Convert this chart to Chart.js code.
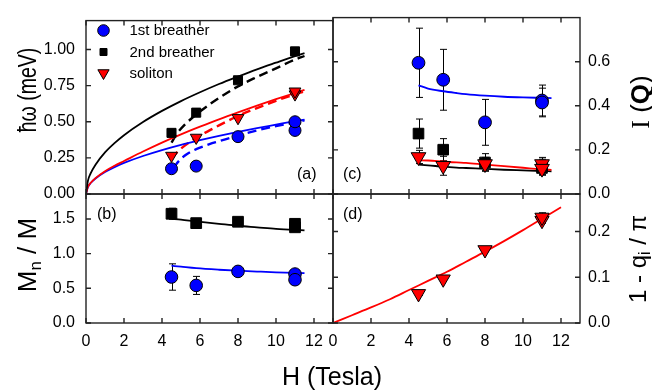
<!DOCTYPE html>
<html><head><meta charset="utf-8">
<script src="https://cdn.jsdelivr.net/npm/chart.js@4.4.1/dist/chart.umd.min.js"></script>
<style>
html,body{margin:0;padding:0;background:#fff;}
#wrap{position:relative;width:652px;height:392px;overflow:hidden;font-family:"Liberation Sans",Arial,Helvetica,sans-serif;color:#000;background:#fff;}
canvas{position:absolute;left:0;top:0;}
.t{position:absolute;white-space:nowrap;line-height:1;}
.t sub{font-size:0.65em;vertical-align:-0.28em;line-height:0;}
.lab{position:absolute;white-space:nowrap;line-height:1;font-size:16px;}
</style></head><body>
<div id="wrap">
<canvas id="ca" width="652" height="392"></canvas>
<canvas id="cb" width="652" height="392"></canvas>
<canvas id="cc" width="652" height="392"></canvas>
<canvas id="cd" width="652" height="392"></canvas>
<div class="t" style="left:332px;top:376px;font-size:25px;transform:translate(-50%,-50%)">H (Tesla)</div>
<div class="t" style="left:27px;top:90px;font-size:25px;transform:translate(-50%,-50%) rotate(-90deg) scaleX(0.78)">ħω (meV)</div>
<div class="t" style="left:27px;top:255px;font-size:26px;transform:translate(-50%,-50%) rotate(-90deg)">M<sub>n</sub> / M</div>
<div class="t" style="left:640px;top:102px;font-size:26px;transform:translate(-50%,-50%) rotate(-90deg)"><span style="font-family:'Liberation Serif',serif">I</span> (<b>Q</b>)</div>
<div class="t" style="left:638px;top:259px;font-size:24px;transform:translate(-50%,-50%) rotate(-90deg)">1 - q<sub>i</sub> / π</div>
<div class="lab" style="left:297px;top:166px">(a)</div>
<div class="lab" style="left:97px;top:206px">(b)</div>
<div class="lab" style="left:343px;top:166px">(c)</div>
<div class="lab" style="left:343px;top:206px">(d)</div>
</div>
<script>
// ---------- data ----------
const hTicks = [0, 2, 4, 6, 8, 10, 12];
const eTicks = [0, 0.25, 0.5, 0.75, 1.0];
const mTicks = [0, 0.5, 1.0, 1.5];
const iTicks = [0, 0.2, 0.4, 0.6];
const qTicks = [0, 0.1, 0.2];

const legendLabels = ['1st breather', '2nd breather', 'soliton'];

// measured fields (Tesla)
const hMeas = [4.5, 5.8, 8, 11, 11];
const hMeas4 = [4.5, 5.8, 8, 11];

// (a) energies, meV
const eB1 = [0.175, 0.193, 0.397, 0.44, 0.50];
const eB2 = [0.423, 0.563, 0.787, 0.987];
const eSol = [0.265, 0.39, 0.526, 0.69, 0.71];

const hTheory = [0, 0.1, 0.25, 0.5, 1, 1.5, 2, 3, 4, 5, 6, 7, 8, 9, 10, 11, 11.5];
const eB2Solid = [0, 0.091, 0.144, 0.203, 0.288, 0.352, 0.407, 0.498, 0.575, 0.643, 0.704, 0.761, 0.813, 0.863, 0.909, 0.954, 0.975];
const eSolSolid = [0, 0.05, 0.078, 0.11, 0.158, 0.195, 0.228, 0.294, 0.356, 0.413, 0.466, 0.517, 0.565, 0.611, 0.656, 0.699, 0.72];
const eB1Solid = [0, 0.048, 0.076, 0.107, 0.152, 0.186, 0.215, 0.263, 0.304, 0.340, 0.372, 0.402, 0.430, 0.456, 0.480, 0.504, 0.515];

const hB2Dash = [4.5, 4.8, 5.2, 5.8, 6.5, 7, 8, 9, 10, 11, 11.5];
const eB2Dash = [0.355, 0.42, 0.48, 0.55, 0.62, 0.665, 0.745, 0.81, 0.87, 0.93, 0.955];
const hSolDash = [4.5, 4.8, 5.2, 5.8, 6.5, 7, 8, 9, 10, 11, 11.5];
const eSolDash = [0.245, 0.29, 0.335, 0.39, 0.44, 0.475, 0.54, 0.595, 0.645, 0.69, 0.71];
const hB1Dash = [4.6, 4.9, 5.3, 5.8, 6.5, 7, 8, 9, 10, 11, 11.5];
const eB1Dash = [0.18, 0.23, 0.275, 0.31, 0.345, 0.365, 0.405, 0.44, 0.47, 0.497, 0.51];

// (b) Mn / M
const mB2 = [1.575, 1.44, 1.46, 1.43, 1.38];
const mB2Err = [0.08, 0.04, 0.04, 0.04, 0.04];
const mB1 = [0.663, 0.542, 0.744, 0.706, 0.624];
const mB1Err = [0.19, 0.13, 0.04, 0.04, 0.04];
const hMFit = [4.5, 5, 5.8, 7, 8, 9, 10, 11.5];
const mB2Fit = [1.503, 1.49, 1.464, 1.43, 1.402, 1.38, 1.358, 1.335];
const mB1Fit = [0.826, 0.812, 0.79, 0.768, 0.754, 0.742, 0.731, 0.72];

// (c) I(Q)
const iB1 = [0.595, 0.518, 0.325, 0.424, 0.415];
const iB1Err = [0.157, 0.138, 0.104, 0.07, 0.065];
const iB2 = [0.274, 0.201, 0.143, 0.128, 0.118];
const iB2Err = [0.066, 0.05, 0.04, 0.03, 0.03];
const iSol = [0.168, 0.128, 0.136, 0.136, 0.115];
const iSolErr = [0.03, 0.043, 0.03, 0.03, 0.03];
const hIFit = [4.5, 5, 5.8, 6.5, 7, 8, 9, 10, 11, 11.5];
const iB1Fit = [0.493, 0.478, 0.466, 0.458, 0.453, 0.446, 0.441, 0.438, 0.436, 0.435];
const iB2Fit = [0.133, 0.13, 0.124, 0.12, 0.118, 0.114, 0.11, 0.107, 0.104, 0.103];
const iSolFit = [0.153, 0.152, 0.147, 0.143, 0.141, 0.133, 0.126, 0.119, 0.112, 0.109];

// (d) 1 - q_i / pi
const qSol = [0.064, 0.096, 0.16, 0.224, 0.231];
const qSolErr = [0.004, 0.004, 0.004, 0.006, 0.01];
const hQFit = [0, 1, 2, 3, 4, 5, 6, 7, 8, 9, 10, 11, 12];
const qFit = [0, 0.017, 0.034, 0.052, 0.072, 0.092, 0.112, 0.134, 0.156, 0.179, 0.203, 0.228, 0.253];

// ---------- styling / helpers ----------
const BLUE = '#0000ff', RED = '#ff0000', BLACK = '#000000';
Chart.defaults.font.family = '"Liberation Sans", Arial, Helvetica, sans-serif';
Chart.defaults.font.size = 16;
Chart.defaults.color = '#000';

const CW = 652, CH = 392;
function pts(xs, ys) { return xs.map((x, i) => ({ x: x, y: ys[i] })); }
function markers(label, xs, ys, style, color, radius, errs) {
  return { label: label, data: pts(xs, ys), showLine: false, pointStyle: style,
    pointRadius: radius, pointHoverRadius: radius, pointBackgroundColor: color,
    pointBorderColor: '#000', pointBorderWidth: 1, pointRotation: style === 'triangle' ? 180 : 0,
    errors: errs || null, order: 0 };
}
function curve(xs, ys, color, width, dash) {
  return { data: pts(xs, ys), showLine: true, pointRadius: 0, pointHoverRadius: 0,
    borderColor: color, borderWidth: width, borderDash: dash || [], fill: false,
    cubicInterpolationMode: 'monotone', order: 1 };
}
function drawMarker(ctx, style, x, y, r, fill) {
  ctx.beginPath();
  if (style === 'circle') ctx.arc(x, y, r, 0, Math.PI * 2);
  else if (style === 'rect') ctx.rect(x - r, y - r, 2 * r, 2 * r);
  else { const s = Math.sin(Math.PI / 3) * r; ctx.moveTo(x, y + r); ctx.lineTo(x - s, y - r / 2); ctx.lineTo(x + s, y - r / 2); ctx.closePath(); }
  ctx.fillStyle = fill; ctx.fill();
  ctx.lineWidth = 1; ctx.strokeStyle = '#000'; ctx.stroke();
}

const decor = {
  id: 'decor',
  beforeDatasetsDraw(chart) {
    const ctx = chart.ctx, x = chart.scales.x, y = chart.scales.y;
    ctx.save(); ctx.strokeStyle = '#000'; ctx.lineWidth = 1;
    chart.data.datasets.forEach(ds => {
      if (!ds.errors) return;
      ds.data.forEach((p, i) => {
        const e = ds.errors[i]; if (!e) return;
        const px = Math.round(x.getPixelForValue(p.x)) + 0.5;
        const y1 = y.getPixelForValue(p.y + e), y2 = y.getPixelForValue(p.y - e);
        ctx.beginPath();
        ctx.moveTo(px, y1); ctx.lineTo(px, y2);
        ctx.moveTo(px - 3.5, y1); ctx.lineTo(px + 3.5, y1);
        ctx.moveTo(px - 3.5, y2); ctx.lineTo(px + 3.5, y2);
        ctx.stroke();
      });
    });
    ctx.restore();
  },
  afterDraw(chart, args, opts) {
    const ctx = chart.ctx, a = chart.chartArea, x = chart.scales.x, y = chart.scales.y;
    ctx.save();
    ctx.strokeStyle = '#222'; ctx.lineWidth = 1.4;
    ctx.strokeRect(a.left, a.top, a.right - a.left, a.bottom - a.top);
    const tl = 5;
    ctx.beginPath();
    hTicks.forEach(v => {
      const px = x.getPixelForValue(v);
      ctx.moveTo(px, a.bottom); ctx.lineTo(px, a.bottom - tl);
      ctx.moveTo(px, a.top); ctx.lineTo(px, a.top + tl);
    });
    (opts.yTicks || []).forEach(v => {
      const py = y.getPixelForValue(v);
      ctx.moveTo(a.left, py); ctx.lineTo(a.left + tl, py);
      ctx.moveTo(a.right, py); ctx.lineTo(a.right - tl, py);
    });
    ctx.stroke();
    if (opts.legend) {
      const styles = ['circle', 'rect', 'triangle'];
      const fills = [BLUE, BLACK, RED];
      const sizes = [5.8, 3.5, 6.5];
      const rows = [30.5, 52, 73];
      const mx = a.left + 17.5;
      ctx.font = '15px "Liberation Sans", Arial, sans-serif';
      ctx.textBaseline = 'middle'; ctx.textAlign = 'left';
      legendLabels.forEach((lab, i) => {
        drawMarker(ctx, styles[i], mx, rows[i], sizes[i], fills[i]);
        ctx.fillStyle = '#000';
        ctx.fillText(lab, a.left + 43.5, rows[i] + 0.5);
      });
    }
    ctx.restore();
  }
};

function panel(id, cfg) {
  const a = cfg.area, yW = 60, xH = 40;
  const pad = { top: a.t };
  if (cfg.yPos === 'left') { pad.left = a.l - yW; pad.right = CW - a.r; }
  else { pad.left = a.l; pad.right = CW - a.r - yW; }
  pad.bottom = cfg.xShow ? CH - a.b - xH : CH - a.b;
  return new Chart(document.getElementById(id), {
    type: 'scatter',
    data: { datasets: cfg.datasets },
    options: {
      responsive: false, animation: false, events: [],
      layout: { padding: pad, autoPadding: false },
      plugins: { legend: { display: false }, tooltip: { enabled: false },
        decor: { yTicks: cfg.yTicks, legend: !!cfg.legend } },
      scales: {
        x: { type: 'linear', min: 0, max: 13, display: cfg.xShow,
          grid: { display: false, drawTicks: false }, border: { display: false },
          ticks: { padding: 9, callback: v => String(v) },
          afterBuildTicks: s => { s.ticks = hTicks.map(v => ({ value: v })); },
          afterFit: s => { s.height = cfg.xShow ? xH : 0; } },
        y: { type: 'linear', position: cfg.yPos, min: cfg.yMin, max: cfg.yMax,
          grid: { display: false, drawTicks: false }, border: { display: false },
          ticks: { padding: cfg.yPos === 'left' ? 11 : 8, callback: v => v.toFixed(cfg.dec) },
          afterBuildTicks: s => { s.ticks = cfg.yTicks.map(v => ({ value: v })); },
          afterFit: s => { s.width = yW; } }
      }
    },
    plugins: [decor]
  });
}

// (a)
panel('ca', {
  area: { l: 86, t: 11, r: 333, b: 194 }, yPos: 'left', xShow: false,
  yMin: 0, yMax: 1.2, yTicks: eTicks, dec: 2, legend: true,
  datasets: [
    markers(legendLabels[0], hMeas, eB1, 'circle', BLUE, 6),
    markers(legendLabels[1], hMeas4, eB2, 'rect', BLACK, 6.4),
    markers(legendLabels[2], hMeas, eSol, 'triangle', RED, 6.8),
    curve(hTheory, eB2Solid, BLACK, 1.8),
    curve(hTheory, eSolSolid, RED, 1.8),
    curve(hTheory, eB1Solid, BLUE, 1.8),
    curve(hB2Dash, eB2Dash, BLACK, 2.4, [9, 5]),
    curve(hSolDash, eSolDash, RED, 2.4, [9, 5]),
    curve(hB1Dash, eB1Dash, BLUE, 2.4, [9, 5])
  ]
});
// (b)
panel('cb', {
  area: { l: 86, t: 194, r: 333, b: 323 }, yPos: 'left', xShow: true,
  yMin: 0, yMax: 1.86, yTicks: mTicks, dec: 1,
  datasets: [
    markers(legendLabels[1], hMeas, mB2, 'rect', BLACK, 7.6, mB2Err),
    markers(legendLabels[0], hMeas, mB1, 'circle', BLUE, 6.3, mB1Err),
    curve(hMFit, mB2Fit, BLACK, 1.8),
    curve(hMFit, mB1Fit, BLUE, 1.8)
  ]
});
// (c)
panel('cc', {
  area: { l: 333, t: 11, r: 580, b: 194 }, yPos: 'right', xShow: false,
  yMin: 0, yMax: 0.8, yTicks: iTicks, dec: 1,
  datasets: [
    markers(legendLabels[2], hMeas, iSol, 'triangle', RED, 8.5, iSolErr),
    markers(legendLabels[1], hMeas, iB2, 'rect', BLACK, 7.5, iB2Err),
    markers(legendLabels[0], hMeas, iB1, 'circle', BLUE, 6.4, iB1Err),
    curve(hIFit, iB1Fit, BLUE, 1.8),
    curve(hIFit, iSolFit, RED, 1.8),
    curve(hIFit, iB2Fit, BLACK, 1.8)
  ]
});
// (d)
panel('cd', {
  area: { l: 333, t: 194, r: 580, b: 323 }, yPos: 'right', xShow: true,
  yMin: 0, yMax: 0.282, yTicks: qTicks, dec: 1,
  datasets: [
    markers(legendLabels[2], hMeas, qSol, 'triangle', RED, 8.2, qSolErr),
    curve(hQFit, qFit, RED, 1.8)
  ]
});
</script>
</body></html>
